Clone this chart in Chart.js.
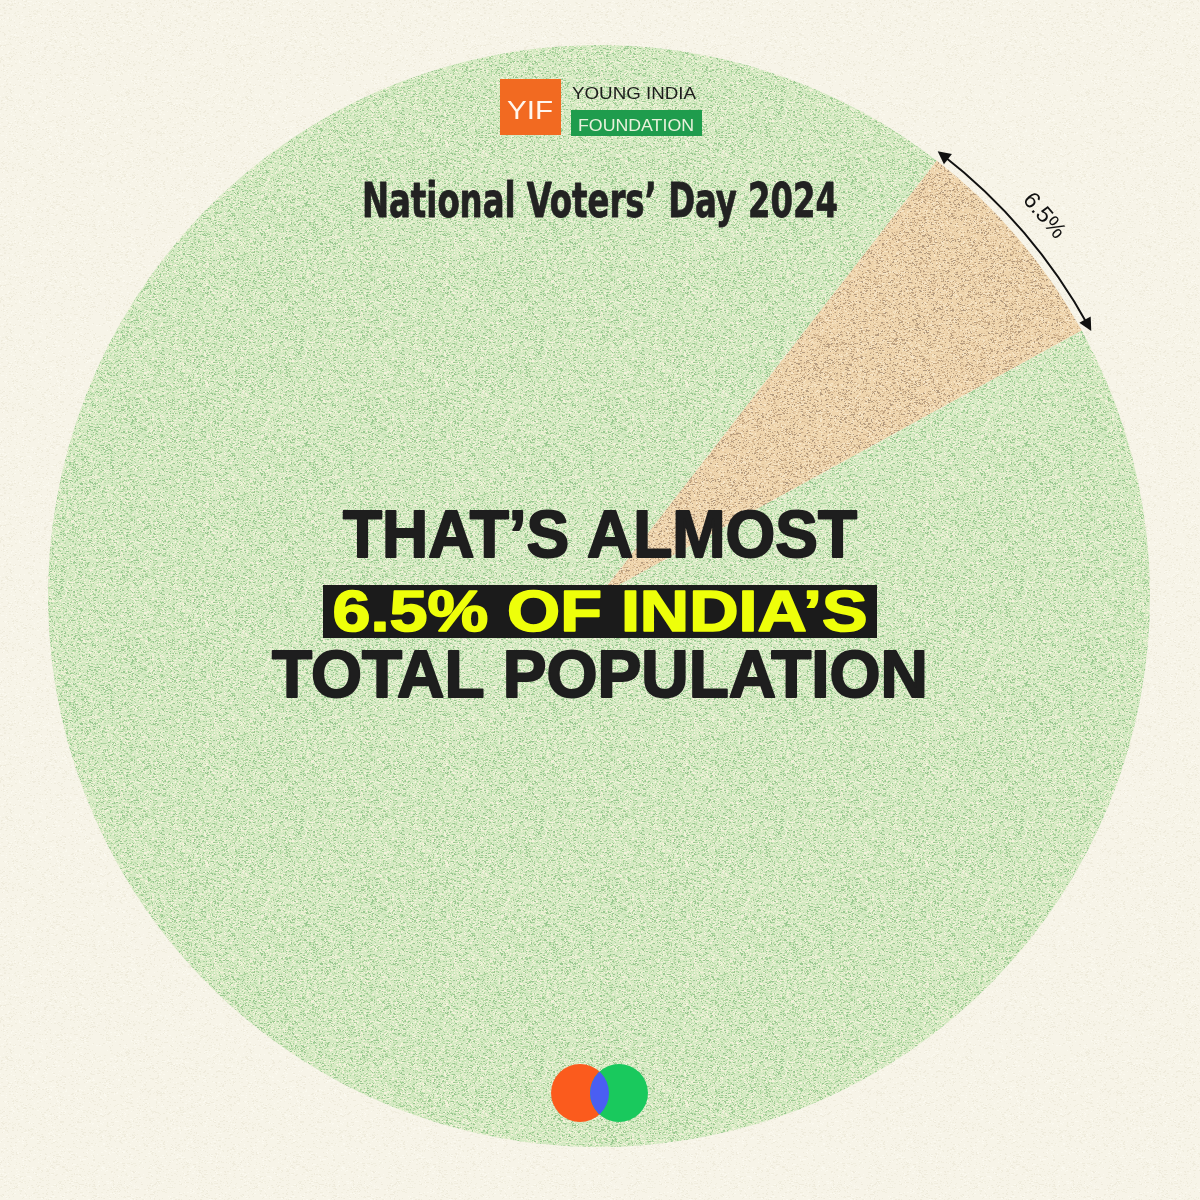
<!DOCTYPE html>
<html>
<head>
<meta charset="utf-8">
<script src="https://cdn.jsdelivr.net/npm/chart.js@4.4.1/dist/chart.umd.min.js"></script>
<style>
  html, body { margin: 0; padding: 0; background: #f7f4e8; }
  #wrap { width: 1200px; height: 1200px; }
</style>
</head>
<body>
<div id="wrap"><canvas id="chart" width="1200" height="1200"></canvas></div>
<script>
// dados do gráfico
const sliceLabels = ['6.5%', 'Rest of population'];
const sliceValues = [6.5, 93.5];
const startDeg = 37.8;

const titleText = 'National Voters’ Day 2024';
const headLines = ['THAT’S ALMOST', '6.5% OF INDIA’S', 'TOTAL POPULATION'];
const logoTexts = ['YIF', 'YOUNG INDIA', 'FOUNDATION'];

// textura granulada (determinística)
function makeNoise(base, specks, count) {
  const c = document.createElement('canvas');
  c.width = c.height = 240;
  const g = c.getContext('2d');
  g.fillStyle = base;
  g.fillRect(0, 0, 240, 240);
  let s = 987654321;
  const rnd = () => (s = (Math.imul(s, 1103515245) + 12345) >>> 0) / 4294967296;
  for (let i = 0; i < count; i++) {
    g.fillStyle = specks[i % specks.length];
    g.fillRect(Math.floor(rnd() * 240), Math.floor(rnd() * 240), rnd() < 0.35 ? 2 : 1, 1);
  }
  return g.createPattern(c, 'repeat');
}

const ctx = document.getElementById('chart').getContext('2d');
const greenFill = makeNoise('#d4e9c2', ['#acd49d', '#98c78f', '#ecf2d6', '#f5f2dd', '#bddeab', '#e4efcc'], 28000);
const sandFill = makeNoise('#efd5ad', ['#c9ab86', '#b39a7e', '#f7e6c8', '#dcc09a', '#f3dfbd'], 24000);
const paperFill = makeNoise('#f7f4e8', ['#efebdc', '#fbf9ef', '#f1eedf'], 9000);

// texto ajustado à largura
function fitText(c, text, cx, baseline, width, font, color, bold) {
  c.save();
  c.font = font;
  c.fillStyle = color;
  c.strokeStyle = color;
  c.textAlign = 'center';
  c.textBaseline = 'alphabetic';
  const w = c.measureText(text).width;
  c.translate(cx, baseline);
  c.scale(width / w, 1);
  c.fillText(text, 0, 0);
  if (bold) {
    c.lineWidth = bold;
    c.lineJoin = 'round';
    c.strokeText(text, 0, 0);
  }
  c.restore();
}
function fitLeft(c, text, x, baseline, width, font, color) {
  c.save();
  c.font = font;
  c.fillStyle = color;
  c.textAlign = 'left';
  const w = c.measureText(text).width;
  c.translate(x, baseline);
  c.scale(width / w, 1);
  c.fillText(text, 0, 0);
  c.restore();
}

const paperBg = {
  id: 'paperBg',
  beforeDraw(chart) {
    const c = chart.ctx;
    c.save();
    c.fillStyle = paperFill;
    c.fillRect(0, 0, chart.width, chart.height);
    c.restore();
  }
};

// arco com setas e rótulo do pedaço
const arcLabel = {
  id: 'arcLabel',
  afterDatasetsDraw(chart) {
    const arc = chart.getDatasetMeta(0).data[0];
    const { x, y, startAngle, endAngle, outerRadius } = arc.getProps(['x', 'y', 'startAngle', 'endAngle', 'outerRadius'], true);
    const c = chart.ctx;
    const r = outerRadius + 8;
    c.save();
    c.strokeStyle = '#111';
    c.fillStyle = '#111';
    c.lineWidth = 2;
    c.beginPath();
    c.arc(x, y, r, startAngle, endAngle);
    c.stroke();
    // pontas
    [[startAngle, -1], [endAngle, 1]].forEach(([a, dir]) => {
      const px = x + Math.cos(a) * r, py = y + Math.sin(a) * r;
      const tx = -Math.sin(a) * dir, ty = Math.cos(a) * dir;
      const nx = Math.cos(a), ny = Math.sin(a);
      c.beginPath();
      c.moveTo(px + tx * 5, py + ty * 5);
      c.lineTo(px - tx * 8 + nx * 6.5, py - ty * 8 + ny * 6.5);
      c.lineTo(px - tx * 8 - nx * 6.5, py - ty * 8 - ny * 6.5);
      c.closePath();
      c.fill();
    });
    const mid = (startAngle + endAngle) / 2;
    c.translate(x + Math.cos(mid) * (r + 26), y + Math.sin(mid) * (r + 26));
    c.rotate(mid + Math.PI / 2);
    c.font = '23px "Liberation Sans", Arial, sans-serif';
    c.textAlign = 'center';
    c.textBaseline = 'middle';
    c.fillText(sliceLabels[0], 0, 0);
    c.restore();
  }
};

// textos, logo e círculos
const overlay = {
  id: 'overlay',
  afterDraw(chart) {
    const c = chart.ctx;
    c.save();
    // logo
    c.fillStyle = '#f26a21';
    c.fillRect(500, 79, 61, 56);
    fitText(c, logoTexts[0], 530, 119, 46, '26px "Liberation Sans", Arial', '#fff6ee');
    fitLeft(c, logoTexts[1], 572, 99, 124, '17px "Liberation Sans", Arial', '#1d1d1d');
    c.fillStyle = '#1f9c4d';
    c.fillRect(571, 110, 131, 26);
    fitLeft(c, logoTexts[2], 578, 131, 116, '17px "Liberation Sans", Arial', '#e8f2dc');

    fitText(c, titleText, 600, 217, 476, 'bold 48px "Liberation Sans Narrow", "DejaVu Sans Condensed", sans-serif', '#222222', 0.8);

    const big = 'bold 66px "Liberation Sans", Arial, sans-serif';
    fitText(c, headLines[0], 600, 557, 514, big, '#1e1e1e', 2);
    c.fillStyle = '#1b1b1b';
    c.fillRect(323, 585, 554, 53);
    fitText(c, headLines[1], 600, 631, 535, 'bold 57px "Liberation Sans", Arial, sans-serif', '#eeff0a', 1.6);
    fitText(c, headLines[2], 600, 697, 656, big, '#1e1e1e', 2);

    // círculos
    c.fillStyle = '#fb5b1d';
    c.beginPath(); c.arc(580, 1093, 29, 0, Math.PI * 2); c.fill();
    c.fillStyle = '#19c95d';
    c.beginPath(); c.arc(619, 1093, 29, 0, Math.PI * 2); c.fill();
    c.save();
    c.beginPath(); c.arc(580, 1093, 29, 0, Math.PI * 2); c.clip();
    c.fillStyle = '#4a5ef2';
    c.beginPath(); c.arc(619, 1093, 29, 0, Math.PI * 2); c.fill();
    c.restore();
    c.restore();
  }
};

const chart = new Chart(ctx, {
  type: 'pie',
  data: {
    labels: sliceLabels,
    datasets: [{
      data: sliceValues,
      backgroundColor: [sandFill, greenFill],
      borderWidth: 0
    }]
  },
  options: {
    responsive: false,
    animation: false,
    rotation: startDeg,
    layout: { padding: { top: 45, bottom: 53, left: 48, right: 50 } },
    plugins: { legend: { display: false }, tooltip: { enabled: false } }
  },
  plugins: [paperBg, arcLabel, overlay]
});
</script>
</body>
</html>
